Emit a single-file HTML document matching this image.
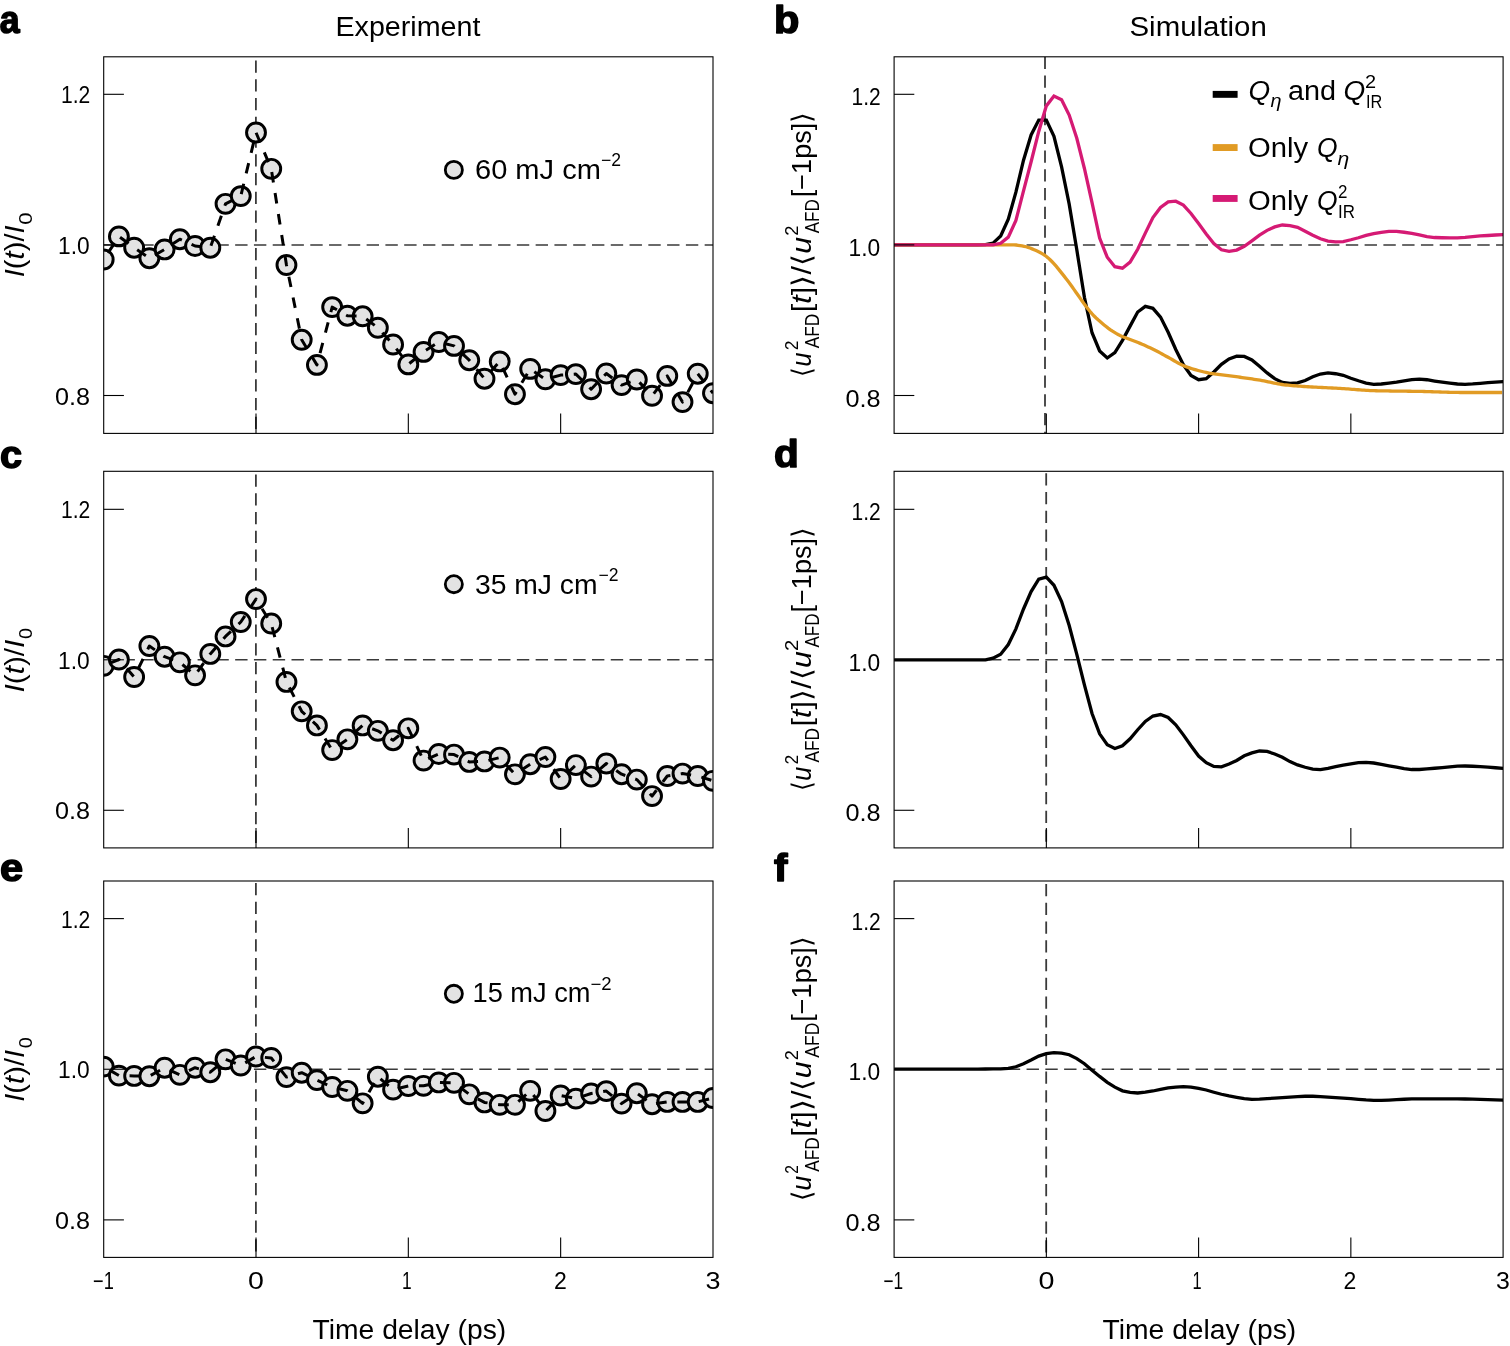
<!DOCTYPE html>
<html><head><meta charset="utf-8"><title>Figure</title><style>
html,body{margin:0;padding:0;background:#fff;overflow:hidden}
svg{display:block}
text{font-family:"Liberation Sans",Arial,sans-serif;fill:#000}
.pl{font-size:41px;font-weight:bold}
</style></head><body>
<svg width="1510" height="1346" viewBox="0 0 1510 1346">
<rect x="0" y="0" width="1510" height="1346" fill="#fff"/>
<defs>
<clipPath id="cl0"><rect x="103.7" y="56.8" width="609.30" height="376.60"/></clipPath>
<clipPath id="cr0"><rect x="894.1" y="56.8" width="609.00" height="376.60"/></clipPath>
<clipPath id="cl1"><rect x="103.7" y="471.3" width="609.30" height="376.60"/></clipPath>
<clipPath id="cr1"><rect x="894.1" y="471.3" width="609.00" height="376.60"/></clipPath>
<clipPath id="cl2"><rect x="103.7" y="881.0" width="609.30" height="376.40"/></clipPath>
<clipPath id="cr2"><rect x="894.1" y="881.0" width="609.00" height="376.40"/></clipPath>
</defs>
<g clip-path="url(#cl0)">
<line x1="103.7" y1="244.90" x2="713.0" y2="244.90" stroke="#3a3a3a" stroke-width="1.5" stroke-dasharray="12.4 6.38" stroke-dashoffset="-0.0"/>
<line x1="255.90" y1="56.8" x2="255.90" y2="433.4" stroke="#3a3a3a" stroke-width="1.8" stroke-dasharray="12.3 6.45" stroke-dashoffset="-3.7"/>
</g>
<g clip-path="url(#cl0)">
<circle cx="103.68" cy="259.5" r="9.45" fill="#e3e3e3" stroke="#000" stroke-width="2.95"/>
<circle cx="118.91" cy="236.4" r="9.45" fill="#e3e3e3" stroke="#000" stroke-width="2.95"/>
<circle cx="134.14" cy="247.7" r="9.45" fill="#e3e3e3" stroke="#000" stroke-width="2.95"/>
<circle cx="149.37" cy="258.2" r="9.45" fill="#e3e3e3" stroke="#000" stroke-width="2.95"/>
<circle cx="164.61" cy="249.4" r="9.45" fill="#e3e3e3" stroke="#000" stroke-width="2.95"/>
<circle cx="179.84" cy="239.2" r="9.45" fill="#e3e3e3" stroke="#000" stroke-width="2.95"/>
<circle cx="195.07" cy="246" r="9.45" fill="#e3e3e3" stroke="#000" stroke-width="2.95"/>
<circle cx="210.30" cy="247.7" r="9.45" fill="#e3e3e3" stroke="#000" stroke-width="2.95"/>
<circle cx="225.53" cy="203.8" r="9.45" fill="#e3e3e3" stroke="#000" stroke-width="2.95"/>
<circle cx="240.77" cy="196.1" r="9.45" fill="#e3e3e3" stroke="#000" stroke-width="2.95"/>
<circle cx="256.00" cy="132.5" r="9.45" fill="#e3e3e3" stroke="#000" stroke-width="2.95"/>
<circle cx="271.23" cy="168.8" r="9.45" fill="#e3e3e3" stroke="#000" stroke-width="2.95"/>
<circle cx="286.46" cy="265" r="9.45" fill="#e3e3e3" stroke="#000" stroke-width="2.95"/>
<circle cx="301.70" cy="339.8" r="9.45" fill="#e3e3e3" stroke="#000" stroke-width="2.95"/>
<circle cx="316.93" cy="364.9" r="9.45" fill="#e3e3e3" stroke="#000" stroke-width="2.95"/>
<circle cx="332.16" cy="307.1" r="9.45" fill="#e3e3e3" stroke="#000" stroke-width="2.95"/>
<circle cx="347.39" cy="315.7" r="9.45" fill="#e3e3e3" stroke="#000" stroke-width="2.95"/>
<circle cx="362.63" cy="316.3" r="9.45" fill="#e3e3e3" stroke="#000" stroke-width="2.95"/>
<circle cx="377.86" cy="327.8" r="9.45" fill="#e3e3e3" stroke="#000" stroke-width="2.95"/>
<circle cx="393.09" cy="344.5" r="9.45" fill="#e3e3e3" stroke="#000" stroke-width="2.95"/>
<circle cx="408.32" cy="364.4" r="9.45" fill="#e3e3e3" stroke="#000" stroke-width="2.95"/>
<circle cx="423.56" cy="351.9" r="9.45" fill="#e3e3e3" stroke="#000" stroke-width="2.95"/>
<circle cx="438.79" cy="342" r="9.45" fill="#e3e3e3" stroke="#000" stroke-width="2.95"/>
<circle cx="454.02" cy="345.9" r="9.45" fill="#e3e3e3" stroke="#000" stroke-width="2.95"/>
<circle cx="469.25" cy="360.2" r="9.45" fill="#e3e3e3" stroke="#000" stroke-width="2.95"/>
<circle cx="484.49" cy="378.7" r="9.45" fill="#e3e3e3" stroke="#000" stroke-width="2.95"/>
<circle cx="499.72" cy="361.4" r="9.45" fill="#e3e3e3" stroke="#000" stroke-width="2.95"/>
<circle cx="514.95" cy="394.2" r="9.45" fill="#e3e3e3" stroke="#000" stroke-width="2.95"/>
<circle cx="530.18" cy="368.9" r="9.45" fill="#e3e3e3" stroke="#000" stroke-width="2.95"/>
<circle cx="545.42" cy="379.3" r="9.45" fill="#e3e3e3" stroke="#000" stroke-width="2.95"/>
<circle cx="560.65" cy="375.1" r="9.45" fill="#e3e3e3" stroke="#000" stroke-width="2.95"/>
<circle cx="575.88" cy="374.1" r="9.45" fill="#e3e3e3" stroke="#000" stroke-width="2.95"/>
<circle cx="591.12" cy="389.2" r="9.45" fill="#e3e3e3" stroke="#000" stroke-width="2.95"/>
<circle cx="606.35" cy="373.5" r="9.45" fill="#e3e3e3" stroke="#000" stroke-width="2.95"/>
<circle cx="621.58" cy="385.1" r="9.45" fill="#e3e3e3" stroke="#000" stroke-width="2.95"/>
<circle cx="636.81" cy="379.5" r="9.45" fill="#e3e3e3" stroke="#000" stroke-width="2.95"/>
<circle cx="652.04" cy="395.8" r="9.45" fill="#e3e3e3" stroke="#000" stroke-width="2.95"/>
<circle cx="667.28" cy="375.9" r="9.45" fill="#e3e3e3" stroke="#000" stroke-width="2.95"/>
<circle cx="682.51" cy="402.1" r="9.45" fill="#e3e3e3" stroke="#000" stroke-width="2.95"/>
<circle cx="697.74" cy="373.7" r="9.45" fill="#e3e3e3" stroke="#000" stroke-width="2.95"/>
<circle cx="712.97" cy="393.2" r="9.45" fill="#e3e3e3" stroke="#000" stroke-width="2.95"/>
<polyline points="103.68,259.5 118.91,236.4 134.14,247.7 149.37,258.2 164.61,249.4 179.84,239.2 195.07,246 210.30,247.7 225.53,203.8 240.77,196.1 256.00,132.5 271.23,168.8 286.46,265 301.70,339.8 316.93,364.9 332.16,307.1 347.39,315.7 362.63,316.3 377.86,327.8 393.09,344.5 408.32,364.4 423.56,351.9 438.79,342 454.02,345.9 469.25,360.2 484.49,378.7 499.72,361.4 514.95,394.2 530.18,368.9 545.42,379.3 560.65,375.1 575.88,374.1 591.12,389.2 606.35,373.5 621.58,385.1 636.81,379.5 652.04,395.8 667.28,375.9 682.51,402.1 697.74,373.7 712.97,393.2" fill="none" stroke="#000" stroke-width="3" stroke-dasharray="10.60 10.60" stroke-dashoffset="13.31" stroke-linejoin="round"/>
</g>
<line x1="103.7" y1="94.30" x2="123.90" y2="94.30" stroke="#000" stroke-width="1.1"/>
<line x1="103.7" y1="244.90" x2="123.90" y2="244.90" stroke="#000" stroke-width="1.1"/>
<line x1="103.7" y1="395.50" x2="123.90" y2="395.50" stroke="#000" stroke-width="1.1"/>
<line x1="256.00" y1="433.4" x2="256.00" y2="413.60" stroke="#000" stroke-width="1.1"/>
<line x1="408.32" y1="433.4" x2="408.32" y2="413.60" stroke="#000" stroke-width="1.1"/>
<line x1="560.65" y1="433.4" x2="560.65" y2="413.60" stroke="#000" stroke-width="1.1"/>
<rect x="103.7" y="56.8" width="609.30" height="376.60" fill="none" stroke="#000" stroke-width="1.1"/>
<g clip-path="url(#cl1)">
<line x1="103.7" y1="659.80" x2="713.0" y2="659.80" stroke="#3a3a3a" stroke-width="1.5" stroke-dasharray="12.4 6.38" stroke-dashoffset="-0.0"/>
<line x1="255.90" y1="471.3" x2="255.90" y2="847.9" stroke="#3a3a3a" stroke-width="1.8" stroke-dasharray="12.3 6.45" stroke-dashoffset="-3.2"/>
</g>
<g clip-path="url(#cl1)">
<circle cx="103.68" cy="665.8" r="9.45" fill="#e3e3e3" stroke="#000" stroke-width="2.95"/>
<circle cx="118.91" cy="659.5" r="9.45" fill="#e3e3e3" stroke="#000" stroke-width="2.95"/>
<circle cx="134.14" cy="677" r="9.45" fill="#e3e3e3" stroke="#000" stroke-width="2.95"/>
<circle cx="149.37" cy="646" r="9.45" fill="#e3e3e3" stroke="#000" stroke-width="2.95"/>
<circle cx="164.61" cy="656.7" r="9.45" fill="#e3e3e3" stroke="#000" stroke-width="2.95"/>
<circle cx="179.84" cy="662.3" r="9.45" fill="#e3e3e3" stroke="#000" stroke-width="2.95"/>
<circle cx="195.07" cy="675.3" r="9.45" fill="#e3e3e3" stroke="#000" stroke-width="2.95"/>
<circle cx="210.30" cy="653.9" r="9.45" fill="#e3e3e3" stroke="#000" stroke-width="2.95"/>
<circle cx="225.53" cy="636.4" r="9.45" fill="#e3e3e3" stroke="#000" stroke-width="2.95"/>
<circle cx="240.77" cy="622" r="9.45" fill="#e3e3e3" stroke="#000" stroke-width="2.95"/>
<circle cx="256.00" cy="599.1" r="9.45" fill="#e3e3e3" stroke="#000" stroke-width="2.95"/>
<circle cx="271.23" cy="623.5" r="9.45" fill="#e3e3e3" stroke="#000" stroke-width="2.95"/>
<circle cx="286.46" cy="681.9" r="9.45" fill="#e3e3e3" stroke="#000" stroke-width="2.95"/>
<circle cx="301.70" cy="711.3" r="9.45" fill="#e3e3e3" stroke="#000" stroke-width="2.95"/>
<circle cx="316.93" cy="725.4" r="9.45" fill="#e3e3e3" stroke="#000" stroke-width="2.95"/>
<circle cx="332.16" cy="750.1" r="9.45" fill="#e3e3e3" stroke="#000" stroke-width="2.95"/>
<circle cx="347.39" cy="739.3" r="9.45" fill="#e3e3e3" stroke="#000" stroke-width="2.95"/>
<circle cx="362.63" cy="725.4" r="9.45" fill="#e3e3e3" stroke="#000" stroke-width="2.95"/>
<circle cx="377.86" cy="730.8" r="9.45" fill="#e3e3e3" stroke="#000" stroke-width="2.95"/>
<circle cx="393.09" cy="740.2" r="9.45" fill="#e3e3e3" stroke="#000" stroke-width="2.95"/>
<circle cx="408.32" cy="728.3" r="9.45" fill="#e3e3e3" stroke="#000" stroke-width="2.95"/>
<circle cx="423.56" cy="760.6" r="9.45" fill="#e3e3e3" stroke="#000" stroke-width="2.95"/>
<circle cx="438.79" cy="754" r="9.45" fill="#e3e3e3" stroke="#000" stroke-width="2.95"/>
<circle cx="454.02" cy="754.6" r="9.45" fill="#e3e3e3" stroke="#000" stroke-width="2.95"/>
<circle cx="469.25" cy="761.9" r="9.45" fill="#e3e3e3" stroke="#000" stroke-width="2.95"/>
<circle cx="484.49" cy="761.4" r="9.45" fill="#e3e3e3" stroke="#000" stroke-width="2.95"/>
<circle cx="499.72" cy="757.6" r="9.45" fill="#e3e3e3" stroke="#000" stroke-width="2.95"/>
<circle cx="514.95" cy="774.3" r="9.45" fill="#e3e3e3" stroke="#000" stroke-width="2.95"/>
<circle cx="530.18" cy="764.2" r="9.45" fill="#e3e3e3" stroke="#000" stroke-width="2.95"/>
<circle cx="545.42" cy="757" r="9.45" fill="#e3e3e3" stroke="#000" stroke-width="2.95"/>
<circle cx="560.65" cy="779" r="9.45" fill="#e3e3e3" stroke="#000" stroke-width="2.95"/>
<circle cx="575.88" cy="765.1" r="9.45" fill="#e3e3e3" stroke="#000" stroke-width="2.95"/>
<circle cx="591.12" cy="776.6" r="9.45" fill="#e3e3e3" stroke="#000" stroke-width="2.95"/>
<circle cx="606.35" cy="763.5" r="9.45" fill="#e3e3e3" stroke="#000" stroke-width="2.95"/>
<circle cx="621.58" cy="774.2" r="9.45" fill="#e3e3e3" stroke="#000" stroke-width="2.95"/>
<circle cx="636.81" cy="779.6" r="9.45" fill="#e3e3e3" stroke="#000" stroke-width="2.95"/>
<circle cx="652.04" cy="796.1" r="9.45" fill="#e3e3e3" stroke="#000" stroke-width="2.95"/>
<circle cx="667.28" cy="776" r="9.45" fill="#e3e3e3" stroke="#000" stroke-width="2.95"/>
<circle cx="682.51" cy="773.6" r="9.45" fill="#e3e3e3" stroke="#000" stroke-width="2.95"/>
<circle cx="697.74" cy="776" r="9.45" fill="#e3e3e3" stroke="#000" stroke-width="2.95"/>
<circle cx="712.97" cy="780.8" r="9.45" fill="#e3e3e3" stroke="#000" stroke-width="2.95"/>
<polyline points="103.68,665.8 118.91,659.5 134.14,677 149.37,646 164.61,656.7 179.84,662.3 195.07,675.3 210.30,653.9 225.53,636.4 240.77,622 256.00,599.1 271.23,623.5 286.46,681.9 301.70,711.3 316.93,725.4 332.16,750.1 347.39,739.3 362.63,725.4 377.86,730.8 393.09,740.2 408.32,728.3 423.56,760.6 438.79,754 454.02,754.6 469.25,761.9 484.49,761.4 499.72,757.6 514.95,774.3 530.18,764.2 545.42,757 560.65,779 575.88,765.1 591.12,776.6 606.35,763.5 621.58,774.2 636.81,779.6 652.04,796.1 667.28,776 682.51,773.6 697.74,776 712.97,780.8" fill="none" stroke="#000" stroke-width="3" stroke-dasharray="10.50 10.50" stroke-dashoffset="13.54" stroke-linejoin="round"/>
</g>
<line x1="103.7" y1="509.32" x2="123.90" y2="509.32" stroke="#000" stroke-width="1.1"/>
<line x1="103.7" y1="659.80" x2="123.90" y2="659.80" stroke="#000" stroke-width="1.1"/>
<line x1="103.7" y1="810.28" x2="123.90" y2="810.28" stroke="#000" stroke-width="1.1"/>
<line x1="256.00" y1="847.9" x2="256.00" y2="828.10" stroke="#000" stroke-width="1.1"/>
<line x1="408.32" y1="847.9" x2="408.32" y2="828.10" stroke="#000" stroke-width="1.1"/>
<line x1="560.65" y1="847.9" x2="560.65" y2="828.10" stroke="#000" stroke-width="1.1"/>
<rect x="103.7" y="471.3" width="609.30" height="376.60" fill="none" stroke="#000" stroke-width="1.1"/>
<g clip-path="url(#cl2)">
<line x1="103.7" y1="1069.25" x2="713.0" y2="1069.25" stroke="#3a3a3a" stroke-width="1.5" stroke-dasharray="12.4 6.38" stroke-dashoffset="-0.0"/>
<line x1="255.90" y1="881.0" x2="255.90" y2="1257.4" stroke="#3a3a3a" stroke-width="1.8" stroke-dasharray="12.3 6.45" stroke-dashoffset="-2.0"/>
</g>
<g clip-path="url(#cl2)">
<circle cx="103.68" cy="1066.6" r="9.45" fill="#e3e3e3" stroke="#000" stroke-width="2.95"/>
<circle cx="118.91" cy="1075.6" r="9.45" fill="#e3e3e3" stroke="#000" stroke-width="2.95"/>
<circle cx="134.14" cy="1075.9" r="9.45" fill="#e3e3e3" stroke="#000" stroke-width="2.95"/>
<circle cx="149.37" cy="1076.2" r="9.45" fill="#e3e3e3" stroke="#000" stroke-width="2.95"/>
<circle cx="164.61" cy="1067.7" r="9.45" fill="#e3e3e3" stroke="#000" stroke-width="2.95"/>
<circle cx="179.84" cy="1074.8" r="9.45" fill="#e3e3e3" stroke="#000" stroke-width="2.95"/>
<circle cx="195.07" cy="1067.7" r="9.45" fill="#e3e3e3" stroke="#000" stroke-width="2.95"/>
<circle cx="210.30" cy="1072.2" r="9.45" fill="#e3e3e3" stroke="#000" stroke-width="2.95"/>
<circle cx="225.53" cy="1059.3" r="9.45" fill="#e3e3e3" stroke="#000" stroke-width="2.95"/>
<circle cx="240.77" cy="1065.5" r="9.45" fill="#e3e3e3" stroke="#000" stroke-width="2.95"/>
<circle cx="256.00" cy="1056.5" r="9.45" fill="#e3e3e3" stroke="#000" stroke-width="2.95"/>
<circle cx="271.23" cy="1058" r="9.45" fill="#e3e3e3" stroke="#000" stroke-width="2.95"/>
<circle cx="286.46" cy="1077.1" r="9.45" fill="#e3e3e3" stroke="#000" stroke-width="2.95"/>
<circle cx="301.70" cy="1072.7" r="9.45" fill="#e3e3e3" stroke="#000" stroke-width="2.95"/>
<circle cx="316.93" cy="1080.1" r="9.45" fill="#e3e3e3" stroke="#000" stroke-width="2.95"/>
<circle cx="332.16" cy="1087" r="9.45" fill="#e3e3e3" stroke="#000" stroke-width="2.95"/>
<circle cx="347.39" cy="1090.8" r="9.45" fill="#e3e3e3" stroke="#000" stroke-width="2.95"/>
<circle cx="362.63" cy="1103.3" r="9.45" fill="#e3e3e3" stroke="#000" stroke-width="2.95"/>
<circle cx="377.86" cy="1076.7" r="9.45" fill="#e3e3e3" stroke="#000" stroke-width="2.95"/>
<circle cx="393.09" cy="1089.6" r="9.45" fill="#e3e3e3" stroke="#000" stroke-width="2.95"/>
<circle cx="408.32" cy="1086" r="9.45" fill="#e3e3e3" stroke="#000" stroke-width="2.95"/>
<circle cx="423.56" cy="1085.8" r="9.45" fill="#e3e3e3" stroke="#000" stroke-width="2.95"/>
<circle cx="438.79" cy="1082.4" r="9.45" fill="#e3e3e3" stroke="#000" stroke-width="2.95"/>
<circle cx="454.02" cy="1082.8" r="9.45" fill="#e3e3e3" stroke="#000" stroke-width="2.95"/>
<circle cx="469.25" cy="1094.3" r="9.45" fill="#e3e3e3" stroke="#000" stroke-width="2.95"/>
<circle cx="484.49" cy="1102.4" r="9.45" fill="#e3e3e3" stroke="#000" stroke-width="2.95"/>
<circle cx="499.72" cy="1104.8" r="9.45" fill="#e3e3e3" stroke="#000" stroke-width="2.95"/>
<circle cx="514.95" cy="1104.8" r="9.45" fill="#e3e3e3" stroke="#000" stroke-width="2.95"/>
<circle cx="530.18" cy="1090.8" r="9.45" fill="#e3e3e3" stroke="#000" stroke-width="2.95"/>
<circle cx="545.42" cy="1111" r="9.45" fill="#e3e3e3" stroke="#000" stroke-width="2.95"/>
<circle cx="560.65" cy="1095.5" r="9.45" fill="#e3e3e3" stroke="#000" stroke-width="2.95"/>
<circle cx="575.88" cy="1098.6" r="9.45" fill="#e3e3e3" stroke="#000" stroke-width="2.95"/>
<circle cx="591.12" cy="1093.5" r="9.45" fill="#e3e3e3" stroke="#000" stroke-width="2.95"/>
<circle cx="606.35" cy="1091.1" r="9.45" fill="#e3e3e3" stroke="#000" stroke-width="2.95"/>
<circle cx="621.58" cy="1103.6" r="9.45" fill="#e3e3e3" stroke="#000" stroke-width="2.95"/>
<circle cx="636.81" cy="1093.2" r="9.45" fill="#e3e3e3" stroke="#000" stroke-width="2.95"/>
<circle cx="652.04" cy="1104.2" r="9.45" fill="#e3e3e3" stroke="#000" stroke-width="2.95"/>
<circle cx="667.28" cy="1101.9" r="9.45" fill="#e3e3e3" stroke="#000" stroke-width="2.95"/>
<circle cx="682.51" cy="1101.9" r="9.45" fill="#e3e3e3" stroke="#000" stroke-width="2.95"/>
<circle cx="697.74" cy="1101.9" r="9.45" fill="#e3e3e3" stroke="#000" stroke-width="2.95"/>
<circle cx="712.97" cy="1098" r="9.45" fill="#e3e3e3" stroke="#000" stroke-width="2.95"/>
<polyline points="103.68,1066.6 118.91,1075.6 134.14,1075.9 149.37,1076.2 164.61,1067.7 179.84,1074.8 195.07,1067.7 210.30,1072.2 225.53,1059.3 240.77,1065.5 256.00,1056.5 271.23,1058 286.46,1077.1 301.70,1072.7 316.93,1080.1 332.16,1087 347.39,1090.8 362.63,1103.3 377.86,1076.7 393.09,1089.6 408.32,1086 423.56,1085.8 438.79,1082.4 454.02,1082.8 469.25,1094.3 484.49,1102.4 499.72,1104.8 514.95,1104.8 530.18,1090.8 545.42,1111 560.65,1095.5 575.88,1098.6 591.12,1093.5 606.35,1091.1 621.58,1103.6 636.81,1093.2 652.04,1104.2 667.28,1101.9 682.51,1101.9 697.74,1101.9 712.97,1098" fill="none" stroke="#000" stroke-width="3" stroke-dasharray="10.70 10.70" stroke-dashoffset="14.47" stroke-linejoin="round"/>
</g>
<line x1="103.7" y1="918.61" x2="123.90" y2="918.61" stroke="#000" stroke-width="1.1"/>
<line x1="103.7" y1="1069.25" x2="123.90" y2="1069.25" stroke="#000" stroke-width="1.1"/>
<line x1="103.7" y1="1219.89" x2="123.90" y2="1219.89" stroke="#000" stroke-width="1.1"/>
<line x1="256.00" y1="1257.4" x2="256.00" y2="1237.60" stroke="#000" stroke-width="1.1"/>
<line x1="408.32" y1="1257.4" x2="408.32" y2="1237.60" stroke="#000" stroke-width="1.1"/>
<line x1="560.65" y1="1257.4" x2="560.65" y2="1237.60" stroke="#000" stroke-width="1.1"/>
<rect x="103.7" y="881.0" width="609.30" height="376.40" fill="none" stroke="#000" stroke-width="1.1"/>
<circle cx="453.85" cy="169.9" r="8.55" fill="#e3e3e3" stroke="#000" stroke-width="2.8"/>
<circle cx="453.85" cy="584.2" r="8.55" fill="#e3e3e3" stroke="#000" stroke-width="2.8"/>
<circle cx="453.85" cy="993.8" r="8.55" fill="#e3e3e3" stroke="#000" stroke-width="2.8"/>
<g clip-path="url(#cr0)">
<line x1="894.1" y1="244.90" x2="1503.1" y2="244.90" stroke="#3a3a3a" stroke-width="1.5" stroke-dasharray="12.4 6.38" stroke-dashoffset="-1.0"/>
<line x1="1045.00" y1="56.8" x2="1045.00" y2="433.4" stroke="#3a3a3a" stroke-width="1.8" stroke-dasharray="12.3 6.45" stroke-dashoffset="-0.0"/>
</g>
<g clip-path="url(#cr0)">
<polyline points="894.10,244.90 901.71,244.90 909.33,244.90 916.94,244.90 924.55,244.90 932.16,244.90 939.77,244.90 947.39,244.90 955.00,244.90 962.61,244.90 970.23,244.90 977.84,244.87 985.45,244.57 993.06,243.08 1000.68,235.93 1008.29,219.29 1015.90,192.14 1023.51,160.20 1031.12,134.92 1038.74,120.10 1046.35,120.11 1053.96,136.23 1061.58,166.89 1069.19,204.11 1076.80,249.85 1084.41,297.26 1092.03,332.74 1099.64,350.92 1107.25,357.99 1114.86,352.54 1122.47,340.40 1130.09,326.11 1137.70,312.03 1145.31,306.40 1152.92,308.31 1160.54,317.06 1168.15,332.25 1175.76,349.49 1183.38,364.79 1190.99,375.49 1198.60,379.70 1206.21,378.73 1213.83,372.01 1221.44,364.31 1229.05,358.89 1236.66,356.15 1244.28,356.44 1251.89,360.00 1259.50,366.31 1267.11,372.93 1274.72,378.66 1282.34,382.37 1289.95,383.46 1297.56,382.88 1305.17,380.47 1312.79,376.80 1320.40,374.05 1328.01,372.92 1335.62,373.74 1343.24,375.32 1350.85,378.25 1358.46,380.74 1366.08,383.03 1373.69,384.28 1381.30,383.98 1388.91,383.12 1396.53,382.14 1404.14,380.98 1411.75,379.69 1419.36,379.10 1426.97,379.74 1434.59,381.04 1442.20,382.18 1449.81,383.16 1457.42,384.01 1465.04,384.29 1472.65,383.92 1480.26,383.27 1487.88,382.68 1495.49,382.14 1503.10,381.60" fill="none" stroke="#000" stroke-width="3.3" stroke-linejoin="miter"/>
<polyline points="894.10,244.90 896.10,244.90 898.10,244.89 900.10,244.89 902.10,244.89 904.10,244.88 906.10,244.88 908.10,244.88 910.10,244.87 912.10,244.87 914.10,244.87 916.10,244.86 918.10,244.86 920.10,244.86 922.10,244.86 924.10,244.85 926.10,244.85 928.10,244.85 930.10,244.85 932.10,244.84 934.10,244.84 936.10,244.84 938.10,244.84 940.10,244.83 942.10,244.83 944.10,244.83 946.10,244.83 948.10,244.83 950.10,244.82 952.10,244.82 954.10,244.82 956.10,244.82 958.10,244.82 960.10,244.82 962.10,244.81 964.10,244.81 966.10,244.81 968.10,244.81 970.10,244.81 972.10,244.81 974.10,244.81 976.10,244.81 978.10,244.80 980.10,244.80 982.10,244.80 984.10,244.80 986.10,244.80 988.10,244.80 990.10,244.80 992.10,244.80 994.10,244.80 996.10,244.80 998.10,244.80 1000.10,244.80 1002.10,244.80 1004.10,244.80 1006.10,244.80 1008.10,244.80 1010.10,244.80 1012.10,244.80 1014.10,244.85 1016.10,245.01 1018.10,245.26 1020.10,245.58 1022.10,245.94 1024.10,246.32 1026.10,246.76 1028.10,247.35 1030.10,248.05 1032.10,248.85 1034.10,249.70 1036.10,250.59 1038.10,251.49 1040.10,252.48 1042.10,253.57 1044.10,254.80 1046.10,256.20 1048.10,257.87 1050.10,259.76 1052.10,261.77 1054.10,263.87 1056.10,266.16 1058.10,268.60 1060.10,271.10 1062.10,273.60 1064.10,276.12 1066.10,278.70 1068.10,281.33 1070.10,284.01 1072.10,286.78 1074.10,289.60 1076.10,292.44 1078.10,295.26 1080.10,298.13 1082.10,301.02 1084.10,303.83 1086.10,306.49 1088.10,309.04 1090.10,311.51 1092.10,313.85 1094.10,316.00 1096.10,317.96 1098.10,319.79 1100.10,321.52 1102.10,323.22 1104.10,324.90 1106.10,326.55 1108.10,328.13 1110.10,329.59 1112.10,330.94 1114.10,332.22 1116.10,333.42 1118.10,334.54 1120.10,335.55 1122.10,336.46 1124.10,337.30 1126.10,338.08 1128.10,338.82 1130.10,339.53 1132.10,340.25 1134.10,340.98 1136.10,341.73 1138.10,342.54 1140.10,343.38 1142.10,344.24 1144.10,345.11 1146.10,345.99 1148.10,346.90 1150.10,347.82 1152.10,348.77 1154.10,349.75 1156.10,350.76 1158.10,351.81 1160.10,352.89 1162.10,353.98 1164.10,355.09 1166.10,356.20 1168.10,357.30 1170.10,358.40 1172.10,359.54 1174.10,360.72 1176.10,361.89 1178.10,363.03 1180.10,364.10 1182.10,365.07 1184.10,365.91 1186.10,366.69 1188.10,367.42 1190.10,368.10 1192.10,368.74 1194.10,369.35 1196.10,369.93 1198.10,370.48 1200.10,371.01 1202.10,371.52 1204.10,372.00 1206.10,372.46 1208.10,372.88 1210.10,373.26 1212.10,373.60 1214.10,373.91 1216.10,374.20 1218.10,374.47 1220.10,374.73 1222.10,374.98 1224.10,375.21 1226.10,375.45 1228.10,375.68 1230.10,375.92 1232.10,376.17 1234.10,376.42 1236.10,376.70 1238.10,376.97 1240.10,377.25 1242.10,377.53 1244.10,377.81 1246.10,378.10 1248.10,378.38 1250.10,378.68 1252.10,378.97 1254.10,379.28 1256.10,379.59 1258.10,379.91 1260.10,380.23 1262.10,380.58 1264.10,380.97 1266.10,381.37 1268.10,381.79 1270.10,382.22 1272.10,382.65 1274.10,383.06 1276.10,383.47 1278.10,383.85 1280.10,384.19 1282.10,384.50 1284.10,384.77 1286.10,384.99 1288.10,385.20 1290.10,385.39 1292.10,385.57 1294.10,385.75 1296.10,385.91 1298.10,386.06 1300.10,386.21 1302.10,386.35 1304.10,386.49 1306.10,386.62 1308.10,386.75 1310.10,386.88 1312.10,386.99 1314.10,387.11 1316.10,387.21 1318.10,387.32 1320.10,387.42 1322.10,387.51 1324.10,387.61 1326.10,387.70 1328.10,387.79 1330.10,387.89 1332.10,387.98 1334.10,388.08 1336.10,388.19 1338.10,388.29 1340.10,388.41 1342.10,388.53 1344.10,388.66 1346.10,388.81 1348.10,388.96 1350.10,389.11 1352.10,389.27 1354.10,389.43 1356.10,389.59 1358.10,389.75 1360.10,389.90 1362.10,390.05 1364.10,390.19 1366.10,390.32 1368.10,390.43 1370.10,390.53 1372.10,390.62 1374.10,390.69 1376.10,390.74 1378.10,390.78 1380.10,390.83 1382.10,390.87 1384.10,390.90 1386.10,390.94 1388.10,390.97 1390.10,391.00 1392.10,391.03 1394.10,391.05 1396.10,391.08 1398.10,391.10 1400.10,391.13 1402.10,391.15 1404.10,391.18 1406.10,391.20 1408.10,391.23 1410.10,391.25 1412.10,391.28 1414.10,391.31 1416.10,391.34 1418.10,391.38 1420.10,391.42 1422.10,391.46 1424.10,391.51 1426.10,391.57 1428.10,391.62 1430.10,391.68 1432.10,391.75 1434.10,391.81 1436.10,391.88 1438.10,391.95 1440.10,392.01 1442.10,392.08 1444.10,392.14 1446.10,392.20 1448.10,392.26 1450.10,392.31 1452.10,392.36 1454.10,392.40 1456.10,392.43 1458.10,392.46 1460.10,392.48 1462.10,392.50 1464.10,392.50 1466.10,392.50 1468.10,392.50 1470.10,392.50 1472.10,392.50 1474.10,392.50 1476.10,392.50 1478.10,392.50 1480.10,392.50 1482.10,392.50 1484.10,392.50 1486.10,392.50 1488.10,392.50 1490.10,392.50 1492.10,392.50 1494.10,392.50 1496.10,392.50 1498.10,392.50 1500.10,392.50 1502.10,392.50" fill="none" stroke="#e19b24" stroke-width="3.3" stroke-linejoin="miter"/>
<polyline points="894.10,244.90 901.71,244.90 909.33,244.90 916.94,244.90 924.55,244.90 932.16,244.90 939.77,244.90 947.39,244.90 955.00,244.90 962.61,244.90 970.23,244.90 977.84,244.90 985.45,244.90 993.06,244.79 1000.68,243.31 1008.29,237.11 1015.90,220.38 1023.51,190.95 1031.12,161.72 1038.74,131.45 1046.35,105.87 1053.96,96.11 1061.58,99.78 1069.19,115.07 1076.80,138.33 1084.41,168.49 1092.03,202.66 1099.64,238.14 1107.25,257.28 1114.86,266.69 1122.47,268.20 1130.09,262.15 1137.70,249.28 1145.31,233.14 1152.92,217.63 1160.54,207.48 1168.15,201.86 1175.76,201.20 1183.38,205.15 1190.99,213.50 1198.60,223.48 1206.21,233.90 1213.83,243.55 1221.44,249.77 1229.05,251.40 1236.66,250.09 1244.28,246.25 1251.89,240.82 1259.50,235.16 1267.11,230.36 1274.72,226.93 1282.34,225.01 1289.95,225.59 1297.56,227.31 1305.17,231.22 1312.79,235.23 1320.40,238.80 1328.01,241.08 1335.62,241.80 1343.24,241.53 1350.85,239.74 1358.46,237.77 1366.08,235.46 1373.69,233.56 1381.30,232.26 1388.91,231.33 1396.53,231.36 1404.14,232.26 1411.75,233.41 1419.36,234.93 1426.97,236.64 1434.59,237.52 1442.20,237.73 1449.81,237.86 1457.42,237.89 1465.04,237.43 1472.65,236.64 1480.26,235.98 1487.88,235.48 1495.49,235.02 1503.10,234.60" fill="none" stroke="#d51a74" stroke-width="3.3" stroke-linejoin="miter"/>
</g>
<line x1="894.1" y1="94.30" x2="914.30" y2="94.30" stroke="#000" stroke-width="1.1"/>
<line x1="894.1" y1="244.90" x2="914.30" y2="244.90" stroke="#000" stroke-width="1.1"/>
<line x1="894.1" y1="395.50" x2="914.30" y2="395.50" stroke="#000" stroke-width="1.1"/>
<line x1="1046.35" y1="433.4" x2="1046.35" y2="413.60" stroke="#000" stroke-width="1.1"/>
<line x1="1198.60" y1="433.4" x2="1198.60" y2="413.60" stroke="#000" stroke-width="1.1"/>
<line x1="1350.85" y1="433.4" x2="1350.85" y2="413.60" stroke="#000" stroke-width="1.1"/>
<rect x="894.1" y="56.8" width="609.00" height="376.60" fill="none" stroke="#000" stroke-width="1.1"/>
<g clip-path="url(#cr1)">
<line x1="894.1" y1="659.80" x2="1503.1" y2="659.80" stroke="#3a3a3a" stroke-width="1.5" stroke-dasharray="12.4 6.38" stroke-dashoffset="-1.0"/>
<line x1="1046.20" y1="471.3" x2="1046.20" y2="847.9" stroke="#3a3a3a" stroke-width="1.8" stroke-dasharray="12.3 6.45" stroke-dashoffset="-2.0"/>
</g>
<g clip-path="url(#cr1)">
<polyline points="894.10,659.80 901.71,659.82 909.33,659.84 916.94,659.86 924.55,659.87 932.16,659.88 939.77,659.89 947.39,659.89 955.00,659.90 962.61,659.90 970.23,659.90 977.84,659.90 985.45,659.79 993.06,658.19 1000.68,654.27 1008.29,644.50 1015.90,628.86 1023.51,608.97 1031.12,591.56 1038.74,579.13 1046.35,577.16 1053.96,585.25 1061.58,601.48 1069.19,625.46 1076.80,654.32 1084.41,684.95 1092.03,713.49 1099.64,733.85 1107.25,744.72 1114.86,748.50 1122.47,745.71 1130.09,738.83 1137.70,729.75 1145.31,721.39 1152.92,716.02 1160.54,714.55 1168.15,717.50 1175.76,724.73 1183.38,734.85 1190.99,745.73 1198.60,756.06 1206.21,762.66 1213.83,766.41 1221.44,766.87 1229.05,764.09 1236.66,760.47 1244.28,755.77 1251.89,752.86 1259.50,751.01 1267.11,751.41 1274.72,753.99 1282.34,757.25 1289.95,761.60 1297.56,764.94 1305.17,767.28 1312.79,769.06 1320.40,769.56 1328.01,768.41 1335.62,766.56 1343.24,765.12 1350.85,763.80 1358.46,762.71 1366.08,762.31 1373.69,763.01 1381.30,764.41 1388.91,765.85 1396.53,767.17 1404.14,768.61 1411.75,769.52 1419.36,769.48 1426.97,768.95 1434.59,768.26 1442.20,767.63 1449.81,766.87 1457.42,766.21 1465.04,766.01 1472.65,766.24 1480.26,766.69 1487.88,767.19 1495.49,767.74 1503.10,768.40" fill="none" stroke="#000" stroke-width="3.3" stroke-linejoin="miter"/>
</g>
<line x1="894.1" y1="509.32" x2="914.30" y2="509.32" stroke="#000" stroke-width="1.1"/>
<line x1="894.1" y1="659.80" x2="914.30" y2="659.80" stroke="#000" stroke-width="1.1"/>
<line x1="894.1" y1="810.28" x2="914.30" y2="810.28" stroke="#000" stroke-width="1.1"/>
<line x1="1046.35" y1="847.9" x2="1046.35" y2="828.10" stroke="#000" stroke-width="1.1"/>
<line x1="1198.60" y1="847.9" x2="1198.60" y2="828.10" stroke="#000" stroke-width="1.1"/>
<line x1="1350.85" y1="847.9" x2="1350.85" y2="828.10" stroke="#000" stroke-width="1.1"/>
<rect x="894.1" y="471.3" width="609.00" height="376.60" fill="none" stroke="#000" stroke-width="1.1"/>
<g clip-path="url(#cr2)">
<line x1="894.1" y1="1069.25" x2="1503.1" y2="1069.25" stroke="#3a3a3a" stroke-width="1.5" stroke-dasharray="12.4 6.38" stroke-dashoffset="-1.0"/>
<line x1="1046.20" y1="881.0" x2="1046.20" y2="1257.4" stroke="#3a3a3a" stroke-width="1.8" stroke-dasharray="12.3 6.45" stroke-dashoffset="-2.9"/>
</g>
<g clip-path="url(#cr2)">
<polyline points="894.10,1069.20 901.71,1069.20 909.33,1069.20 916.94,1069.19 924.55,1069.19 932.16,1069.18 939.77,1069.16 947.39,1069.15 955.00,1069.13 962.61,1069.11 970.23,1069.08 977.84,1069.04 985.45,1069.00 993.06,1068.96 1000.68,1068.91 1008.29,1068.28 1015.90,1066.77 1023.51,1063.72 1031.12,1060.03 1038.74,1056.12 1046.35,1053.69 1053.96,1052.67 1061.58,1053.07 1069.19,1054.74 1076.80,1058.57 1084.41,1063.73 1092.03,1070.20 1099.64,1076.42 1107.25,1082.30 1114.86,1087.11 1122.47,1090.82 1130.09,1092.40 1137.70,1092.99 1145.31,1092.23 1152.92,1091.00 1160.54,1089.36 1168.15,1087.93 1175.76,1087.11 1183.38,1086.62 1190.99,1087.03 1198.60,1088.38 1206.21,1090.01 1213.83,1092.23 1221.44,1094.27 1229.05,1095.96 1236.66,1097.34 1244.28,1098.62 1251.89,1099.30 1259.50,1099.10 1267.11,1098.62 1274.72,1098.10 1282.34,1097.63 1289.95,1097.09 1297.56,1096.59 1305.17,1096.26 1312.79,1096.23 1320.40,1096.53 1328.01,1097.04 1335.62,1097.62 1343.24,1098.12 1350.85,1098.72 1358.46,1099.37 1366.08,1099.95 1373.69,1100.33 1381.30,1100.37 1388.91,1100.10 1396.53,1099.67 1404.14,1099.23 1411.75,1098.94 1419.36,1098.90 1426.97,1098.90 1434.59,1098.90 1442.20,1098.90 1449.81,1098.90 1457.42,1098.92 1465.04,1099.01 1472.65,1099.16 1480.26,1099.37 1487.88,1099.62 1495.49,1099.90 1503.10,1100.20" fill="none" stroke="#000" stroke-width="3.3" stroke-linejoin="miter"/>
</g>
<line x1="894.1" y1="918.61" x2="914.30" y2="918.61" stroke="#000" stroke-width="1.1"/>
<line x1="894.1" y1="1069.25" x2="914.30" y2="1069.25" stroke="#000" stroke-width="1.1"/>
<line x1="894.1" y1="1219.89" x2="914.30" y2="1219.89" stroke="#000" stroke-width="1.1"/>
<line x1="1046.35" y1="1257.4" x2="1046.35" y2="1237.60" stroke="#000" stroke-width="1.1"/>
<line x1="1198.60" y1="1257.4" x2="1198.60" y2="1237.60" stroke="#000" stroke-width="1.1"/>
<line x1="1350.85" y1="1257.4" x2="1350.85" y2="1237.60" stroke="#000" stroke-width="1.1"/>
<rect x="894.1" y="881.0" width="609.00" height="376.40" fill="none" stroke="#000" stroke-width="1.1"/>
<rect x="1212.7" y="90.9" width="24.9" height="6.9" fill="#000"/>
<rect x="1212.7" y="144.1" width="24.9" height="6.9" fill="#e19b24"/>
<rect x="1212.7" y="195.0" width="24.9" height="6.9" fill="#d51a74"/>
<text x="335.50" y="35.50" style="font-size:27px" textLength="144.92" lengthAdjust="spacingAndGlyphs">Experiment</text>
<text x="1129.50" y="35.50" style="font-size:27px" textLength="137.34" lengthAdjust="spacingAndGlyphs">Simulation</text>
<text x="312.50" y="1339.00" style="font-size:27px" textLength="193.75" lengthAdjust="spacingAndGlyphs">Time delay (ps)</text>
<text x="1102.50" y="1339.00" style="font-size:27px" textLength="193.75" lengthAdjust="spacingAndGlyphs">Time delay (ps)</text>
<text x="61.00" y="103.30" style="font-size:23.4px" textLength="29.30" lengthAdjust="spacingAndGlyphs">1.2</text>
<text x="851.50" y="105.30" style="font-size:23.4px" textLength="29.19" lengthAdjust="spacingAndGlyphs">1.2</text>
<text x="58.00" y="253.90" style="font-size:23.4px" textLength="31.68" lengthAdjust="spacingAndGlyphs">1.0</text>
<text x="848.50" y="255.90" style="font-size:23.4px" textLength="31.68" lengthAdjust="spacingAndGlyphs">1.0</text>
<text x="55.00" y="404.50" style="font-size:23.4px" textLength="35.05" lengthAdjust="spacingAndGlyphs">0.8</text>
<text x="845.50" y="406.50" style="font-size:23.4px" textLength="35.15" lengthAdjust="spacingAndGlyphs">0.8</text>
<text x="61.00" y="518.32" style="font-size:23.4px" textLength="29.30" lengthAdjust="spacingAndGlyphs">1.2</text>
<text x="851.50" y="520.32" style="font-size:23.4px" textLength="29.19" lengthAdjust="spacingAndGlyphs">1.2</text>
<text x="58.00" y="668.80" style="font-size:23.4px" textLength="31.68" lengthAdjust="spacingAndGlyphs">1.0</text>
<text x="848.50" y="670.80" style="font-size:23.4px" textLength="31.68" lengthAdjust="spacingAndGlyphs">1.0</text>
<text x="55.00" y="819.28" style="font-size:23.4px" textLength="35.05" lengthAdjust="spacingAndGlyphs">0.8</text>
<text x="845.50" y="821.28" style="font-size:23.4px" textLength="35.15" lengthAdjust="spacingAndGlyphs">0.8</text>
<text x="61.00" y="927.61" style="font-size:23.4px" textLength="29.30" lengthAdjust="spacingAndGlyphs">1.2</text>
<text x="851.50" y="929.61" style="font-size:23.4px" textLength="29.19" lengthAdjust="spacingAndGlyphs">1.2</text>
<text x="58.00" y="1078.25" style="font-size:23.4px" textLength="31.68" lengthAdjust="spacingAndGlyphs">1.0</text>
<text x="848.50" y="1080.25" style="font-size:23.4px" textLength="31.68" lengthAdjust="spacingAndGlyphs">1.0</text>
<text x="55.00" y="1228.89" style="font-size:23.4px" textLength="35.05" lengthAdjust="spacingAndGlyphs">0.8</text>
<text x="845.50" y="1230.89" style="font-size:23.4px" textLength="35.15" lengthAdjust="spacingAndGlyphs">0.8</text>
<text x="93.00" y="1289.40" style="font-size:23.4px" textLength="20.79" lengthAdjust="spacingAndGlyphs">−1</text>
<text x="883.50" y="1289.40" style="font-size:23.4px" textLength="19.69" lengthAdjust="spacingAndGlyphs">−1</text>
<text x="248.00" y="1289.40" style="font-size:23.4px" textLength="15.89" lengthAdjust="spacingAndGlyphs">0</text>
<text x="1038.50" y="1289.40" style="font-size:23.4px" textLength="15.97" lengthAdjust="spacingAndGlyphs">0</text>
<text x="402.00" y="1289.40" style="font-size:23.4px" textLength="9.66" lengthAdjust="spacingAndGlyphs">1</text>
<text x="1192.50" y="1289.40" style="font-size:23.4px" textLength="9.11" lengthAdjust="spacingAndGlyphs">1</text>
<text x="554.00" y="1289.40" style="font-size:23.4px" textLength="12.82" lengthAdjust="spacingAndGlyphs">2</text>
<text x="1343.50" y="1289.40" style="font-size:23.4px" textLength="12.82" lengthAdjust="spacingAndGlyphs">2</text>
<text x="705.50" y="1289.40" style="font-size:23.4px" textLength="14.98" lengthAdjust="spacingAndGlyphs">3</text>
<text x="1496.00" y="1289.40" style="font-size:23.4px" textLength="13.83" lengthAdjust="spacingAndGlyphs">3</text>
<text x="475.00" y="179.40" style="font-size:27px" textLength="125.86" lengthAdjust="spacingAndGlyphs">60 mJ cm</text>
<text x="601.00" y="166.40" style="font-size:17.5px" textLength="20.01" lengthAdjust="spacingAndGlyphs">−2</text>
<text x="475.00" y="593.70" style="font-size:27px" textLength="122.58" lengthAdjust="spacingAndGlyphs">35 mJ cm</text>
<text x="598.50" y="580.70" style="font-size:17.5px" textLength="19.98" lengthAdjust="spacingAndGlyphs">−2</text>
<text x="472.50" y="1002.30" style="font-size:27px" textLength="118.07" lengthAdjust="spacingAndGlyphs">15 mJ cm</text>
<text x="590.50" y="989.80" style="font-size:17.5px" textLength="21.12" lengthAdjust="spacingAndGlyphs">−2</text>
<text x="1248.50" y="99.80" style="font-size:27px;font-style:italic" textLength="21.70" lengthAdjust="spacingAndGlyphs">Q</text>
<text x="1270.50" y="107.40" style="font-size:18.5px;font-style:italic" textLength="11.01" lengthAdjust="spacingAndGlyphs">η</text>
<text x="1288.00" y="99.80" style="font-size:27px" textLength="48.05" lengthAdjust="spacingAndGlyphs">and</text>
<text x="1343.50" y="99.80" style="font-size:27px;font-style:italic" textLength="21.76" lengthAdjust="spacingAndGlyphs">Q</text>
<text x="1365.00" y="87.90" style="font-size:18.5px" textLength="11.08" lengthAdjust="spacingAndGlyphs">2</text>
<text x="1366.00" y="107.90" style="font-size:18.5px" textLength="16.27" lengthAdjust="spacingAndGlyphs">IR</text>
<text x="1248.00" y="157.00" style="font-size:27px" textLength="60.06" lengthAdjust="spacingAndGlyphs">Only</text>
<text x="1317.00" y="157.00" style="font-size:27px;font-style:italic" textLength="20.59" lengthAdjust="spacingAndGlyphs">Q</text>
<text x="1337.50" y="164.70" style="font-size:18.5px;font-style:italic" textLength="11.75" lengthAdjust="spacingAndGlyphs">η</text>
<text x="1248.00" y="210.00" style="font-size:27px" textLength="60.06" lengthAdjust="spacingAndGlyphs">Only</text>
<text x="1317.00" y="210.00" style="font-size:27px;font-style:italic" textLength="20.59" lengthAdjust="spacingAndGlyphs">Q</text>
<text x="1338.00" y="198.00" style="font-size:18.5px" textLength="9.43" lengthAdjust="spacingAndGlyphs">2</text>
<text x="1338.00" y="218.20" style="font-size:18.5px" textLength="16.91" lengthAdjust="spacingAndGlyphs">IR</text>
<text x="-0.20" y="32.80" style="font-size:38.5px;font-weight:bold;stroke:#000;stroke-width:1.5px;stroke-linejoin:round" textLength="19.87" lengthAdjust="spacingAndGlyphs">a</text>
<text x="773.90" y="32.85" style="font-size:38.5px;font-weight:bold;stroke:#000;stroke-width:1.5px;stroke-linejoin:round" textLength="25.39" lengthAdjust="spacingAndGlyphs">b</text>
<text x="0.10" y="467.50" style="font-size:38.5px;font-weight:bold;stroke:#000;stroke-width:1.5px;stroke-linejoin:round" textLength="22.11" lengthAdjust="spacingAndGlyphs">c</text>
<text x="774.10" y="467.25" style="font-size:38.5px;font-weight:bold;stroke:#000;stroke-width:1.5px;stroke-linejoin:round" textLength="24.77" lengthAdjust="spacingAndGlyphs">d</text>
<text x="0.10" y="881.35" style="font-size:38.5px;font-weight:bold;stroke:#000;stroke-width:1.5px;stroke-linejoin:round" textLength="23.15" lengthAdjust="spacingAndGlyphs">e</text>
<text x="774.00" y="880.95" style="font-size:38.5px;font-weight:bold;stroke:#000;stroke-width:1.5px;stroke-linejoin:round" textLength="13.49" lengthAdjust="spacingAndGlyphs">f</text>
<text transform="translate(23.50,0) rotate(-90)" x="-277.25" y="0" style="font-size:27.5px" textLength="51.83" lengthAdjust="spacingAndGlyphs"><tspan font-style="italic">I</tspan>(<tspan font-style="italic">t</tspan>)/<tspan font-style="italic">I</tspan></text>
<text transform="translate(31.70,0) rotate(-90)" x="-224.75" y="0" style="font-size:18.9px" textLength="12.28" lengthAdjust="spacingAndGlyphs">0</text>
<text transform="translate(810.50,0) rotate(-90)" x="-376.75" y="0" style="font-size:27px" textLength="24.30" lengthAdjust="spacingAndGlyphs">⟨<tspan font-style="italic">u</tspan></text>
<text transform="translate(797.60,0) rotate(-90)" x="-350.25" y="0" style="font-size:18.7px" textLength="9.72" lengthAdjust="spacingAndGlyphs">2</text>
<text transform="translate(818.60,0) rotate(-90)" x="-348.25" y="0" style="font-size:19.5px" textLength="34.53" lengthAdjust="spacingAndGlyphs">AFD</text>
<text transform="translate(810.50,0) rotate(-90)" x="-312.25" y="0" style="font-size:27px" textLength="75.47" lengthAdjust="spacingAndGlyphs">[<tspan font-style="italic">t</tspan>]⟩/⟨<tspan font-style="italic">u</tspan></text>
<text transform="translate(797.60,0) rotate(-90)" x="-235.75" y="0" style="font-size:18.7px" textLength="10.20" lengthAdjust="spacingAndGlyphs">2</text>
<text transform="translate(818.60,0) rotate(-90)" x="-233.25" y="0" style="font-size:19.5px" textLength="34.08" lengthAdjust="spacingAndGlyphs">AFD</text>
<text transform="translate(810.50,0) rotate(-90)" x="-197.25" y="0" style="font-size:27px" textLength="85.53" lengthAdjust="spacingAndGlyphs">[−1ps]⟩</text>
<text transform="translate(23.50,0) rotate(-90)" x="-692.50" y="0" style="font-size:27.5px" textLength="52.84" lengthAdjust="spacingAndGlyphs"><tspan font-style="italic">I</tspan>(<tspan font-style="italic">t</tspan>)/<tspan font-style="italic">I</tspan></text>
<text transform="translate(31.70,0) rotate(-90)" x="-639.00" y="0" style="font-size:18.9px" textLength="11.05" lengthAdjust="spacingAndGlyphs">0</text>
<text transform="translate(810.50,0) rotate(-90)" x="-791.00" y="0" style="font-size:27px" textLength="24.25" lengthAdjust="spacingAndGlyphs">⟨<tspan font-style="italic">u</tspan></text>
<text transform="translate(797.60,0) rotate(-90)" x="-764.50" y="0" style="font-size:18.7px" textLength="9.72" lengthAdjust="spacingAndGlyphs">2</text>
<text transform="translate(818.60,0) rotate(-90)" x="-762.50" y="0" style="font-size:19.5px" textLength="34.50" lengthAdjust="spacingAndGlyphs">AFD</text>
<text transform="translate(810.50,0) rotate(-90)" x="-726.50" y="0" style="font-size:27px" textLength="75.34" lengthAdjust="spacingAndGlyphs">[<tspan font-style="italic">t</tspan>]⟩/⟨<tspan font-style="italic">u</tspan></text>
<text transform="translate(797.60,0) rotate(-90)" x="-651.00" y="0" style="font-size:18.7px" textLength="11.34" lengthAdjust="spacingAndGlyphs">2</text>
<text transform="translate(818.60,0) rotate(-90)" x="-647.50" y="0" style="font-size:19.5px" textLength="34.08" lengthAdjust="spacingAndGlyphs">AFD</text>
<text transform="translate(810.50,0) rotate(-90)" x="-612.50" y="0" style="font-size:27px" textLength="85.53" lengthAdjust="spacingAndGlyphs">[−1ps]⟩</text>
<text transform="translate(23.50,0) rotate(-90)" x="-1101.75" y="0" style="font-size:27.5px" textLength="51.83" lengthAdjust="spacingAndGlyphs"><tspan font-style="italic">I</tspan>(<tspan font-style="italic">t</tspan>)/<tspan font-style="italic">I</tspan></text>
<text transform="translate(31.70,0) rotate(-90)" x="-1048.25" y="0" style="font-size:18.9px" textLength="11.05" lengthAdjust="spacingAndGlyphs">0</text>
<text transform="translate(810.50,0) rotate(-90)" x="-1201.25" y="0" style="font-size:27px" textLength="25.41" lengthAdjust="spacingAndGlyphs">⟨<tspan font-style="italic">u</tspan></text>
<text transform="translate(797.60,0) rotate(-90)" x="-1173.75" y="0" style="font-size:18.7px" textLength="8.64" lengthAdjust="spacingAndGlyphs">2</text>
<text transform="translate(818.60,0) rotate(-90)" x="-1171.75" y="0" style="font-size:19.5px" textLength="34.50" lengthAdjust="spacingAndGlyphs">AFD</text>
<text transform="translate(810.50,0) rotate(-90)" x="-1136.75" y="0" style="font-size:27px" textLength="75.47" lengthAdjust="spacingAndGlyphs">[<tspan font-style="italic">t</tspan>]⟩/⟨<tspan font-style="italic">u</tspan></text>
<text transform="translate(797.60,0) rotate(-90)" x="-1060.25" y="0" style="font-size:18.7px" textLength="10.08" lengthAdjust="spacingAndGlyphs">2</text>
<text transform="translate(818.60,0) rotate(-90)" x="-1057.75" y="0" style="font-size:19.5px" textLength="35.12" lengthAdjust="spacingAndGlyphs">AFD</text>
<text transform="translate(810.50,0) rotate(-90)" x="-1021.75" y="0" style="font-size:27px" textLength="85.53" lengthAdjust="spacingAndGlyphs">[−1ps]⟩</text>
</svg></body></html>
